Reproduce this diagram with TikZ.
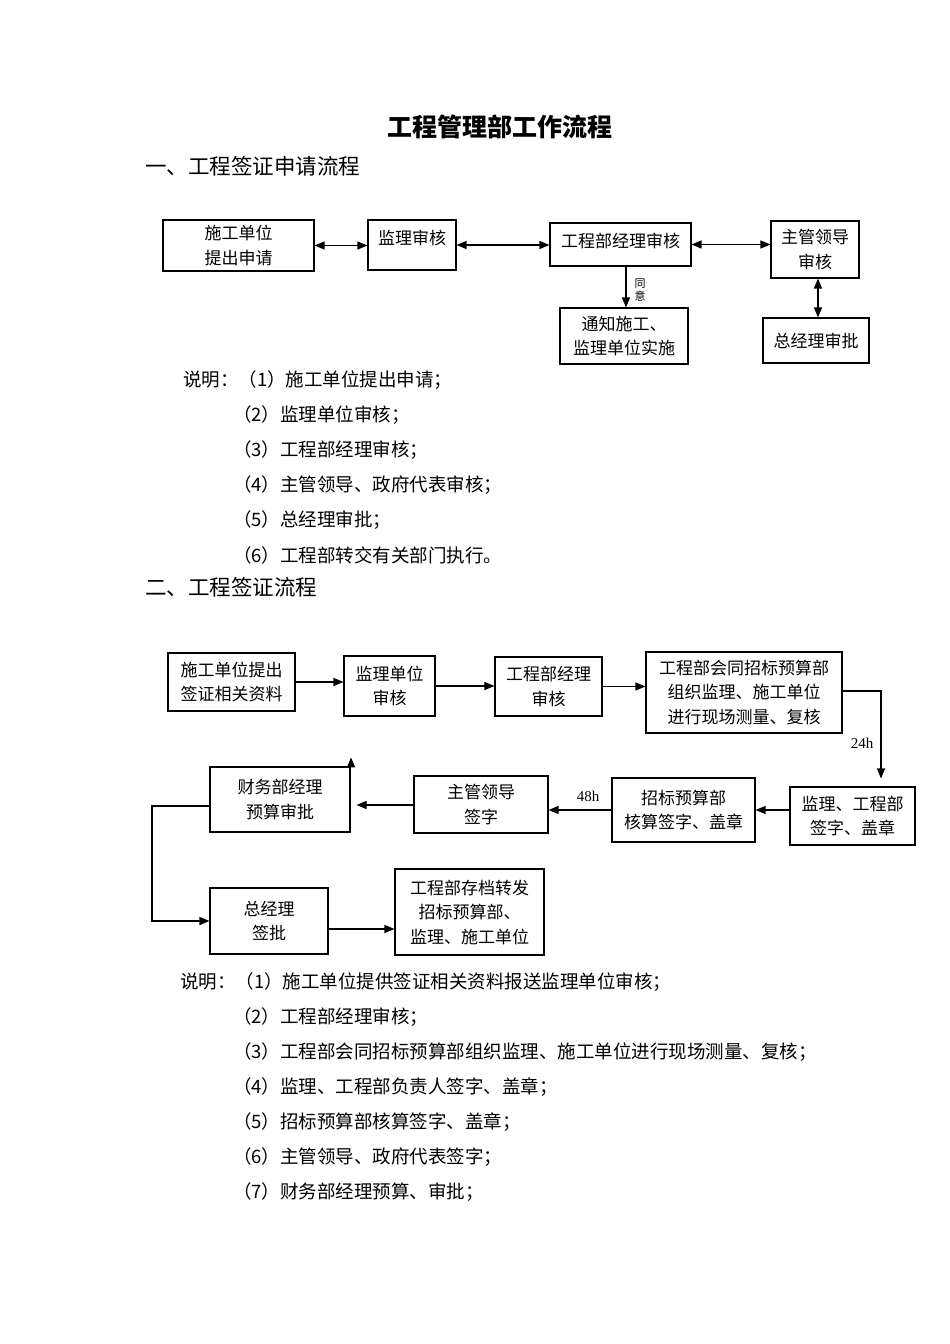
\documentclass[tikz,border=0pt]{standalone}
\usepackage{fontspec}
\setmainfont{Noto Sans CJK SC}
\newfontfamily\latinserif{Liberation Serif}
\usetikzlibrary{arrows.meta}
\begin{document}
\begin{tikzpicture}[x=1pt,y=-1pt,
  box/.style={draw,line width=1.1pt,align=center,inner sep=0pt,font=\fontsize{17}{24.5}\selectfont},
  arr/.style={line width=1.3pt,-{Triangle[length=10pt,width=8pt]}},
  darr/.style={line width=1.3pt,{Triangle[length=10pt,width=8pt]}-{Triangle[length=10pt,width=8pt]}},
  note/.style={anchor=west,inner sep=0pt,font=\fontsize{18.5}{22}\selectfont},
  hd/.style={anchor=west,inner sep=0pt,font=\fontsize{21.5}{24}\selectfont}]
\useasboundingbox[fill=white] (0,0) rectangle (950,1344);

\node[inner sep=0pt,font=\fontsize{25}{28}\selectfont\bfseries] (title) at (500,127) {工程管理部工作流程};
\node[hd] (h1) at (145,166) {一、工程签证申请流程};

% diagram 1
\node[box,minimum width=151pt,minimum height=51pt] (A) at (238.5,245.5) {施工单位\\提出申请};
\node[box,minimum width=88pt,minimum height=50pt,text depth=16pt] (B) at (412,245) {监理审核};
\node[box,minimum width=141pt,minimum height=43pt,text depth=9pt] (C) at (620.5,244.5) {工程部经理审核};
\node[box,minimum width=88pt,minimum height=57pt] (D) at (815,249.5) {主管领导\\审核};
\node[box,minimum width=128pt,minimum height=56pt] (E) at (624,336) {通知施工、\\监理单位实施};
\node[box,minimum width=106pt,minimum height=45pt] (F) at (816,340.5) {总经理审批};

\draw[darr] (A.east) -- (A.east -| B.west);
\draw[darr] (B.east) -- (B.east -| C.west);
\draw[darr] (C.east) -- (C.east -| D.west);
\draw[arr] ([xshift=5.5pt]C.south) -- ([xshift=5.5pt]C.south |- E.north);
\node[inner sep=0pt,align=center,font=\fontsize{11}{13}\selectfont] (ty) at (640,290) {同\\意};
\draw[darr] ([xshift=3pt]D.south) -- ([xshift=3pt]D.south |- F.north);

% notes 1
\node[note] (n11) at (183,380) {说明：（1）施工单位提出申请；};
\node[note] (n12) at (233,415) {（2）监理单位审核；};
\node[note] (n13) at (233,450) {（3）工程部经理审核；};
\node[note] (n14) at (233,485) {（4）主管领导、政府代表审核；};
\node[note] (n15) at (233,520) {（5）总经理审批；};
\node[note] (n16) at (233,555) {（6）工程部转交有关部门执行。};

\node[hd] (h2) at (145,587) {二、工程签证流程};

% diagram 2
\node[box,minimum width=127pt,minimum height=58pt] (G) at (231.5,682) {施工单位提出\\签证相关资料};
\node[box,minimum width=91pt,minimum height=60pt] (H) at (389.5,686) {监理单位\\审核};
\node[box,minimum width=107pt,minimum height=59pt] (I) at (548.5,686.5) {工程部经理\\审核};
\node[box,minimum width=196pt,minimum height=81pt] (J) at (744,692.5) {工程部会同招标预算部\\组织监理、施工单位\\进行现场测量、复核};
\node[box,minimum width=125pt,minimum height=58pt] (K) at (852.5,816) {监理、工程部\\签字、盖章};
\node[box,minimum width=143pt,minimum height=64pt] (L) at (683.5,810) {招标预算部\\核算签字、盖章};
\node[box,minimum width=134pt,minimum height=57pt] (M) at (481,804.5) {主管领导\\签字};
\node[box,minimum width=140pt,minimum height=65pt] (N) at (280,799.5) {财务部经理\\预算审批};
\node[box,minimum width=118pt,minimum height=66pt] (O) at (269,921) {总经理\\签批};
\node[box,minimum width=149pt,minimum height=86pt] (P) at (469.5,912) {工程部存档转发\\招标预算部、\\监理、施工单位};

\coordinate (jk) at (881,691);
\coordinate (nl) at (152,806);

\draw[arr] (G.east) -- (G.east -| H.west);
\draw[arr] (H.east) -- (H.east -| I.west);
\draw[arr] (I.east) -- (I.east -| J.west);
\draw[arr,shorten >=8pt] (J.east |- jk) -- (jk) -- (jk |- K.north);
\node[inner sep=0pt,font=\latinserif\fontsize{15}{17}\selectfont] (t24) at (862,743) {24h};
\draw[arr] (K.west |- L.east) -- (L.east);
\draw[arr] (L.west) -- (L.west -| M.east);
\node[inner sep=0pt,font=\latinserif\fontsize{15}{17}\selectfont] (t48) at (588,796) {48h};
\draw[arr,shorten >=6pt] (M.west |- 0,805) -- (N.east |- 0,805);
\draw[arr] ([xshift=0.5pt]N.north east) -- ++(0,-9);
\draw[arr] (N.west |- nl) -- (nl) |- (O.west);
\draw[arr] ([yshift=-8pt]O.east) -- ([yshift=-8pt]O.east -| P.west);

% notes 2
\node[note] (n21) at (180,982) {说明：（1）施工单位提供签证相关资料报送监理单位审核；};
\node[note] (n22) at (233,1017) {（2）工程部经理审核；};
\node[note] (n23) at (233,1052) {（3）工程部会同招标预算部组织监理、施工单位进行现场测量、复核；};
\node[note] (n24) at (233,1087) {（4）监理、工程部负责人签字、盖章；};
\node[note] (n25) at (233,1122) {（5）招标预算部核算签字、盖章；};
\node[note] (n26) at (233,1157) {（6）主管领导、政府代表签字；};
\node[note] (n27) at (233,1192) {（7）财务部经理预算、审批；};
\end{tikzpicture}
\end{document}
